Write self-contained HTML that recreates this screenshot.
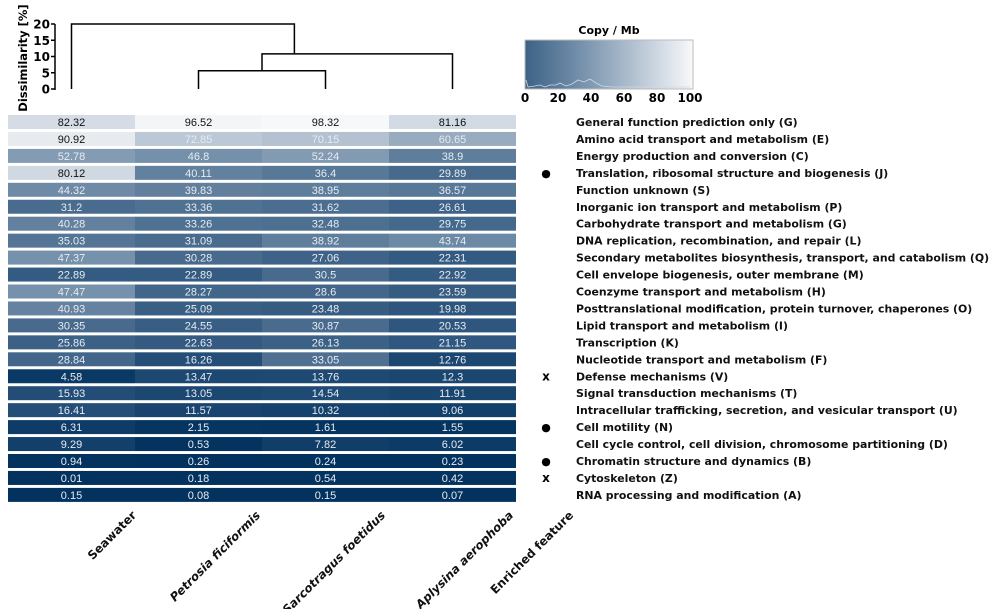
<!DOCTYPE html>
<html><head><meta charset="utf-8"><style>
body{margin:0;background:#fff;}
svg text{font-family:"DejaVu Sans","Liberation Sans",sans-serif;}
.cell{font-family:"Liberation Sans",sans-serif;font-size:11px;}
</style></head><body>
<svg id="chart" width="1000" height="609" viewBox="0 0 1000 609" xmlns="http://www.w3.org/2000/svg">
<defs><linearGradient id="grad" x1="0" x2="1" y1="0" y2="0">
<stop offset="0" stop-color="#3d6286"/><stop offset="0.3" stop-color="#6f8ca8"/><stop offset="0.6" stop-color="#a9bacb"/><stop offset="1" stop-color="#f8f9fb"/></linearGradient></defs>
<g id="dendro"></g>
<g id="legend"></g>
<g id="cells"></g>
<g id="labels"></g>
<g id="cols"></g>
</svg>
<script>
const samples=["Seawater","Petrosia ficiformis","Sarcotragus foetidus","Aplysina aerophoba"];
const categories=["General function prediction only (G)","Amino acid transport and metabolism (E)","Energy production and conversion (C)","Translation, ribosomal structure and biogenesis (J)","Function unknown (S)","Inorganic ion transport and metabolism (P)","Carbohydrate transport and metabolism (G)","DNA replication, recombination, and repair (L)","Secondary metabolites biosynthesis, transport, and catabolism (Q)","Cell envelope biogenesis, outer membrane (M)","Coenzyme transport and metabolism (H)","Posttranslational modification, protein turnover, chaperones (O)","Lipid transport and metabolism (I)","Transcription (K)","Nucleotide transport and metabolism (F)","Defense mechanisms (V)","Signal transduction mechanisms (T)","Intracellular trafficking, secretion, and vesicular transport (U)","Cell motility (N)","Cell cycle control, cell division, chromosome partitioning (D)","Chromatin structure and dynamics (B)","Cytoskeleton (Z)","RNA processing and modification (A)"];
const seawater=[82.32,90.92,52.78,80.12,44.32,31.2,40.28,35.03,47.37,22.89,47.47,40.93,30.35,25.86,28.84,4.58,15.93,16.41,6.31,9.29,0.94,0.01,0.15];
const petrosia=[96.52,72.85,46.8,40.11,39.83,33.36,33.26,31.09,30.28,22.89,28.27,25.09,24.55,22.63,16.26,13.47,13.05,11.57,2.15,0.53,0.26,0.18,0.08];
const sarcotragus=[98.32,70.15,52.24,36.4,38.95,31.62,32.48,38.92,27.06,30.5,28.6,23.48,30.87,26.13,33.05,13.76,14.54,10.32,1.61,7.82,0.24,0.54,0.15];
const aplysina=[81.16,60.65,38.9,29.89,36.57,26.61,29.75,43.74,22.31,22.92,23.59,19.98,20.53,21.15,12.76,12.3,11.91,9.06,1.55,6.02,0.23,0.42,0.07];
const enriched=["","","","●","","","","","","","","","","","","x","","","●","","●","x",""];
const dendroTicks=[0,5,10,15,20];
const merges=[[1,2,5.6],[4,3,10.8],[0,5,20]]; // [left node, right node, height]
const legendTicks=[0,20,40,60,80,100];
const series=[seawater,petrosia,sarcotragus,aplysina];
const NS="http://www.w3.org/2000/svg";
function mk(tag,attrs,parent,txt){const e=document.createElementNS(NS,tag);for(const k in attrs)e.setAttribute(k,attrs[k]);if(txt!==undefined)e.textContent=txt;parent.appendChild(e);return e;}
const colX=i=>8+i*127, colW=127;
const rowY=i=>115+i*16.95, rowH=14;
const dy=v=>89-v*3.25;
const stops=[[0,[3,50,95]],[10,[20,65,108]],[20,[45,85,125]],[30,[70,105,140]],[45,[112,140,167]],[60,[150,170,190]],[80,[208,216,226]],[100,[250,251,252]]];
function color(v){for(let i=1;i<stops.length;i++){if(v<=stops[i][0]){const [a,ca]=stops[i-1],[b,cb]=stops[i];const t=(v-a)/(b-a);return "rgb("+ca.map((c,j)=>Math.round(c+(cb[j]-c)*t)).join(",")+")";}}return "rgb(250,251,252)";}
// heatmap
const cells=document.getElementById('cells');
series.forEach((s,c)=>{s.forEach((v,r)=>{
 const rc=mk('rect',{x:colX(c),y:rowY(r),width:colW,height:rowH,fill:color(v)},cells);
 
 
 const t=mk('text',{x:colX(c)+colW/2,y:rowY(r)+11,'text-anchor':'middle',class:'cell',fill:v>76?'#111':'#e6ecf2'},cells,String(v));
 
 
});});
// row labels
const lab=document.getElementById('labels');
categories.forEach((c,r)=>{
 const t=mk('text',{x:576,y:rowY(r)+11,'font-size':'10.9','font-weight':'bold',fill:'#111'},lab,c);
 
 
 if(enriched[r]){const m=mk('text',{x:546,y:rowY(r)+11,'text-anchor':'middle','font-size':enriched[r]==='x'?'12':'11','font-weight':'bold',fill:'#000'},lab,enriched[r]);
 
 }
});
// column labels
const cols=document.getElementById('cols');
const colLabels=samples.concat(["Enriched feature"]);
const colEndX=[137,261,386,514,574];
colLabels.forEach((s,i)=>{
 const ex=colEndX[i], ey=516;
 const t=mk('text',{x:ex,y:ey,'text-anchor':'end','font-size':'11.8','font-weight':'bold','font-style':i>0&&i<4?'italic':'normal',transform:'rotate(-45 '+ex+' '+ey+')',fill:'#111'},cols,s);
 
 
});
// dendrogram
const d=document.getElementById('dendro');
mk('line',{x1:55,x2:55,y1:dy(0)+1,y2:dy(20),stroke:'#000','stroke-width':1.5},d);
dendroTicks.forEach(v=>{mk('line',{x1:51,x2:55,y1:dy(v),y2:dy(v),stroke:'#000','stroke-width':1.5},d);
 const t=mk('text',{x:50,y:dy(v)+4.5,'text-anchor':'end','font-size':'12','font-weight':'bold'},d,String(v));
 
 });
const yt=mk('text',{x:27,y:58,'text-anchor':'middle','font-size':'11.5','font-weight':'bold',transform:'rotate(-90 27 58)'},d,'Dissimilarity [%]');


const nodes=samples.map((s,i)=>({x:colX(i)+colW/2,h:0}));
const joinFrac=[0.5,0.5,0.5];
merges.forEach(([a,b,h],k)=>{const A=nodes[a],B=nodes[b];
 mk('path',{d:`M${A.x},${dy(A.h)} V${dy(h)} H${B.x} V${dy(B.h)}`,fill:'none',stroke:'#000','stroke-width':1.5},d);
 nodes.push({x:k===1?(A.x*0.83+B.x*0.17):A.x+(B.x-A.x)*joinFrac[k],h:h});});
// legend
const lg=document.getElementById('legend');
const lt=mk('text',{x:609,y:34,'text-anchor':'middle','font-size':'11','font-weight':'bold'},lg,'Copy / Mb');


mk('rect',{x:525,y:40,width:168,height:49,fill:'url(#grad)',stroke:'#bbb','stroke-width':1},lg);
mk('polyline',{points:'526,80 528,87 535,86 540,85 545,87 550,85 556,85 560,83 566,86 572,84 578,80 584,82 590,79 596,83 602,86 612,87 625,87 640,87 655,87 670,87 690,87',fill:'none',stroke:'#cfd8e2','stroke-width':0.8},lg);
legendTicks.forEach(v=>{const x=525+v*1.65;
 const t=mk('text',{x:x,y:102,'text-anchor':'middle','font-size':'12','font-weight':'bold'},lg,String(v));
 
 });
</script>
</body></html>
